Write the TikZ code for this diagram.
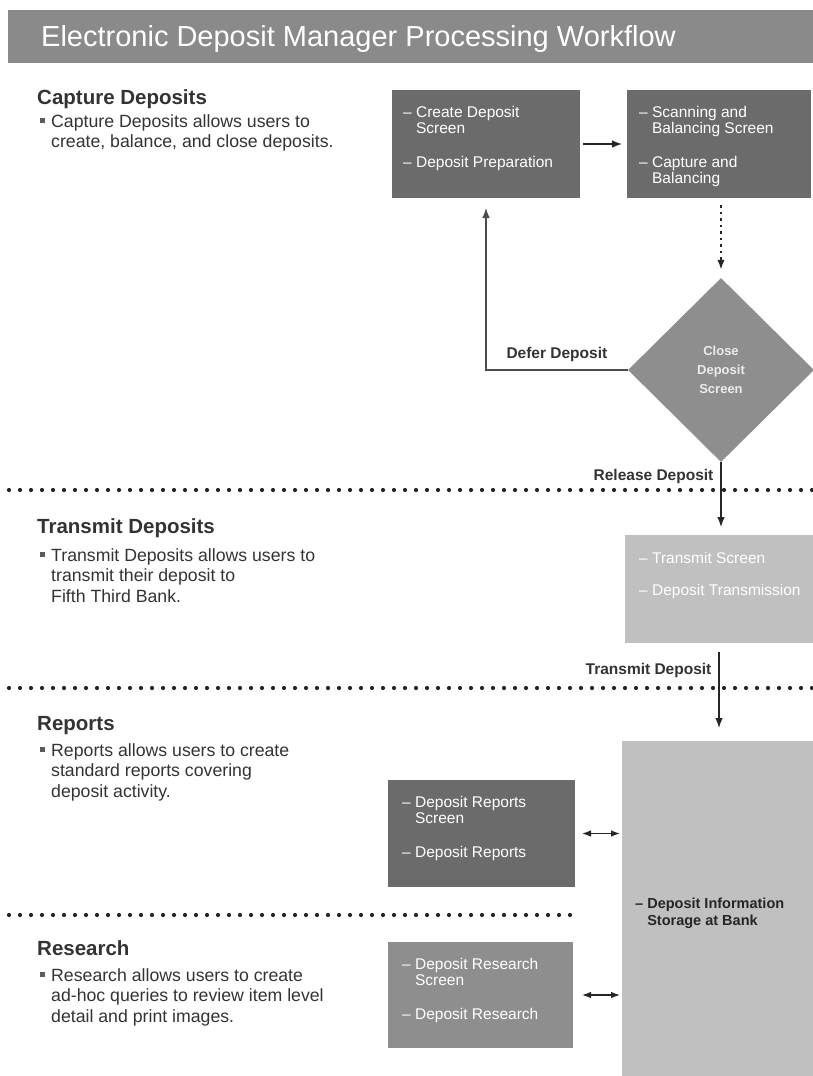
\documentclass[tikz,border=0pt]{standalone}
\usepackage{fontspec}
\setmainfont{Liberation Sans}
\usepackage{tikz}
\usetikzlibrary{positioning,shapes.geometric,arrows.meta}
\usepackage{xcolor}
\definecolor{bargray}{HTML}{8A8A8A}
\definecolor{darkbox}{HTML}{6B6B6B}
\definecolor{midbox}{HTML}{8E8E8E}
\definecolor{lightbox}{HTML}{C0C0C0}
\definecolor{inkgray}{HTML}{333333}
\newcommand{\bulletmark}{\llap{\textcolor{inkgray!80}{\rule[4pt]{5.5pt}{5.5pt}}\hspace{6pt}}}

\begin{document}
\begin{tikzpicture}[x=1pt,y=-1pt,
  panel/.style={anchor=north west,inner sep=0pt,outer sep=0pt},
  paneltext/.style={anchor=base west,inner sep=0pt,align=left,text=white,
    font=\fontsize{15.5}{16}\selectfont},
  head/.style={anchor=base west,inner sep=0pt,text=inkgray,
    font=\bfseries\fontsize{20.5}{24}\selectfont},
  body/.style={anchor=base west,inner sep=0pt,align=left,text=inkgray,
    font=\fontsize{17.7}{20.5}\selectfont},
  flowlabel/.style={inner sep=0pt,text=inkgray,font=\bfseries\fontsize{15.5}{18}\selectfont},
  arr/.style={-{Latex[length=10pt,width=7.5pt]},line width=1.2pt,black!85},
  dblarr/.style={{Latex[length=9pt,width=6.5pt]}-{Latex[length=9pt,width=6.5pt]},line width=1.2pt,black!85}]
  \useasboundingbox (0,0) rectangle (813,1076);

  \node[panel,fill=bargray,minimum width=805,minimum height=53] (titlebar) at (8,10) {};
  \node[anchor=base west,inner sep=0pt,text=white,font=\fontsize{29}{32}\selectfont]
        (title) at (41,46) {Electronic Deposit Manager Processing Workflow};

  % multi-line nodes sit on the baseline of their last line
  \node[head] (capturehead) at (37,104) {Capture Deposits};
  \node[body] (capturebody) at (51,147.5)
        {\bulletmark Capture Deposits allows users to\\create, balance, and close deposits.};
  \node[head] (transmithead) at (37,533) {Transmit Deposits};
  \node[body] (transmitbody) at (51,602)
        {\bulletmark Transmit Deposits allows users to\\transmit their deposit to\\Fifth Third Bank.};
  \node[head] (reportshead) at (37,730) {Reports};
  \node[body] (reportsbody) at (51,797)
        {\bulletmark Reports allows users to create\\standard reports covering\\deposit activity.};
  \node[head] (researchhead) at (37,955) {Research};
  \node[body] (researchbody) at (51,1022)
        {\bulletmark Research allows users to create\\ad-hoc queries to review item level\\detail and print images.};

  \foreach \y/\n in {490/74,688/74,915/52}
    \foreach \i in {1,...,\n}
      \fill[black!85] (-2+11*\i,\y) circle[radius=2.1pt];

  \node[panel,fill=darkbox,minimum width=188,minimum height=108] (createbox) at (392,90) {};
  \node[paneltext] (createtxt) at ([shift={(11,77)}]createbox.north west)
        {-- Create Deposit\\\phantom{-- }Screen\\[18pt]-- Deposit Preparation};
  \node[panel,fill=darkbox,minimum width=184,minimum height=108] (scanbox) at (627,90) {};
  \node[paneltext] (scantxt) at ([shift={(12,93)}]scanbox.north west)
        {-- Scanning and\\\phantom{-- }Balancing Screen\\[18pt]-- Capture and\\\phantom{-- }Balancing};
  \node[diamond,fill=midbox,inner sep=0pt,minimum width=186,minimum height=184,align=center,
        text=white!92!black,font=\bfseries\fontsize{13}{19}\selectfont] (closedia) at (721,370)
        {Close\\Deposit\\Screen};
  \node[panel,fill=lightbox,minimum width=188,minimum height=108] (transbox) at (625,535) {};
  \node[paneltext] (transtxt) at ([shift={(14,60)}]transbox.north west)
        {-- Transmit Screen\\[16pt]-- Deposit Transmission};
  \node[panel,fill=lightbox,minimum width=191,minimum height=335] (storebox) at (622,741) {};
  \node[paneltext,text=black!85,font=\bfseries\fontsize{14.5}{17}\selectfont] (storetxt)
        at ([shift={(13,184)}]storebox.north west)
        {-- Deposit Information\\\phantom{-- }Storage at Bank};
  \node[panel,fill=darkbox,minimum width=187,minimum height=107] (reportbox) at (388,780) {};
  \node[paneltext] (reporttxt) at ([shift={(14,77)}]reportbox.north west)
        {-- Deposit Reports\\\phantom{-- }Screen\\[18pt]-- Deposit Reports};
  \node[panel,fill=midbox,minimum width=185,minimum height=106] (researchbox) at (388,942) {};
  \node[paneltext] (researchtxt) at ([shift={(14,77)}]researchbox.north west)
        {-- Deposit Research\\\phantom{-- }Screen\\[18pt]-- Deposit Research};

  \draw[arr,shorten <=3pt,shorten >=5pt] (createbox) -- (scanbox);
  \draw[arr,dash pattern=on 2.5pt off 4pt,line width=2pt,shorten <=7pt,shorten >=8pt]
        (scanbox.south -| closedia.north) -- (closedia.north);
  \draw[arr,black!70,shorten >=10pt] (closedia.west) -| (createbox.south)
        node[flowlabel,pos=0.25,above=8pt] (deferlbl) {Defer Deposit};
  \draw[arr,shorten >=8pt] (closedia.south) -- (transbox.north -| closedia.south)
        node[flowlabel,pos=0.2,left=7pt] (releaselbl) {Release Deposit};
  \draw[arr,shorten <=9pt,shorten >=13pt] (transbox.south) -- (storebox.north -| transbox.south)
        node[flowlabel,pos=0.28,left=7pt] (transmitlbl) {Transmit Deposit};
  \draw[dblarr,shorten <=7pt,shorten >=2pt] (reportbox.east) -- (storebox.west |- reportbox.east);
  \draw[dblarr,shorten <=9pt,shorten >=2pt] (researchbox.east) -- (storebox.west |- researchbox.east);
\end{tikzpicture}
\end{document}
